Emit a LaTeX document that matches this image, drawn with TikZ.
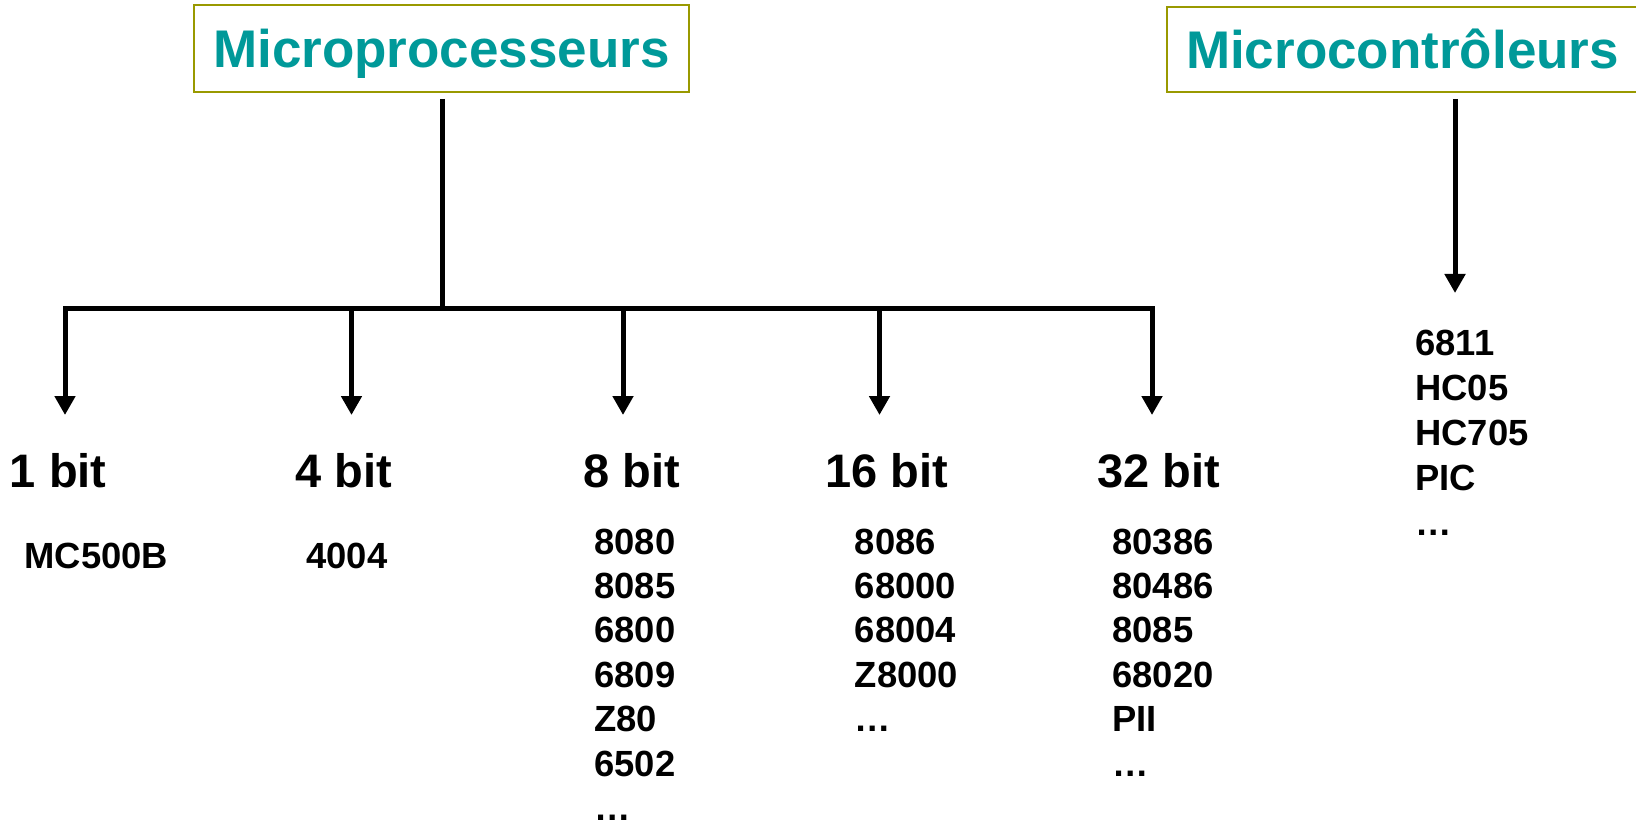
\documentclass[tikz,border=0pt]{standalone}
\usepackage{fontspec}
\setmainfont{Liberation Sans}
\usetikzlibrary{arrows.meta}
\definecolor{headtxt}{RGB}{0,153,153}
\definecolor{headbox}{RGB}{153,153,0}
\begin{document}
\begin{tikzpicture}[x=0.5pt, y=-0.5pt,
  head/.style={draw=headbox, line width=1pt, text=headtxt, inner sep=0pt, text height=19pt, text depth=0pt, font=\bfseries\fontsize{26.5pt}{30pt}\selectfont},
  cls/.style={anchor=base west, inner sep=0pt, font=\bfseries\fontsize{23.5pt}{28pt}\selectfont},
  itm/.style={anchor=base west, inner sep=0pt, font=\bfseries\fontsize{18.2pt}{22pt}\selectfont},
  ln/.style={draw=black, line width=2.5pt},
  arr/.style={ln, -{Triangle[width=10pt, length=9.5pt]}}]
\useasboundingbox (0,0) rectangle (1636,823);
\node[head, minimum width=247.5pt, minimum height=43.5pt] (mp) at (441.5,48.5) {Microprocesseurs};
\node[head, minimum width=235.5pt, minimum height=42.5pt] (mc) at (1402.5,49.5) {Microcontrôleurs};
\coordinate (j) at (442,309);
\coordinate (t1) at (65,415);  \coordinate (t4) at (351.5,415); \coordinate (t8) at (623,415);
\coordinate (t16) at (879.5,415); \coordinate (t32) at (1152,415); \coordinate (tm) at (1455,293);
% One stem from the processor box feeds the bus; the two outer arrows turn
% the bus corners, the three inner ones drop straight from it.
\draw[ln, shorten <=3pt] (mp.south -| j) -- (j);
\draw[arr] (j) -| (t1); \draw[arr] (j) -| (t32);
\draw[arr] (t4 |- j) -- (t4); \draw[arr] (t8 |- j) -- (t8); \draw[arr] (t16 |- j) -- (t16);
\draw[arr, shorten <=3pt] (mc.south -| tm) -- (tm);
\node[cls] (w1) at (9.5,487) {1 bit};
\node[cls] (w4) at (295,487) {4 bit};
\node[cls] (w8) at (583,487) {8 bit};
\node[cls] (w16) at (825,487) {16 bit};
\node[cls] (w32) at (1097,487) {32 bit};
\node[itm] (e1) at (24,568) {MC500B};
\node[itm] (e4) at (306,568) {4004};
\foreach \t [count=\i from 0] in {8080,8085,6800,6809,Z80,6502,…}
  \node[itm] (e8-\i) at (594,554+44.4*\i) {\t};
\foreach \t [count=\i from 0] in {8086,68000,68004,Z8000,…}
  \node[itm] (e16-\i) at (854.5,554+44.4*\i) {\t};
\foreach \t [count=\i from 0] in {80386,80486,8085,68020,PII,…}
  \node[itm] (e32-\i) at (1112,554+44.4*\i) {\t};
\foreach \t [count=\i from 0] in {6811,HC05,HC705,PIC,…}
  \node[itm] (em-\i) at (1415,356+44.8*\i) {\t};
\end{tikzpicture}
\end{document}
